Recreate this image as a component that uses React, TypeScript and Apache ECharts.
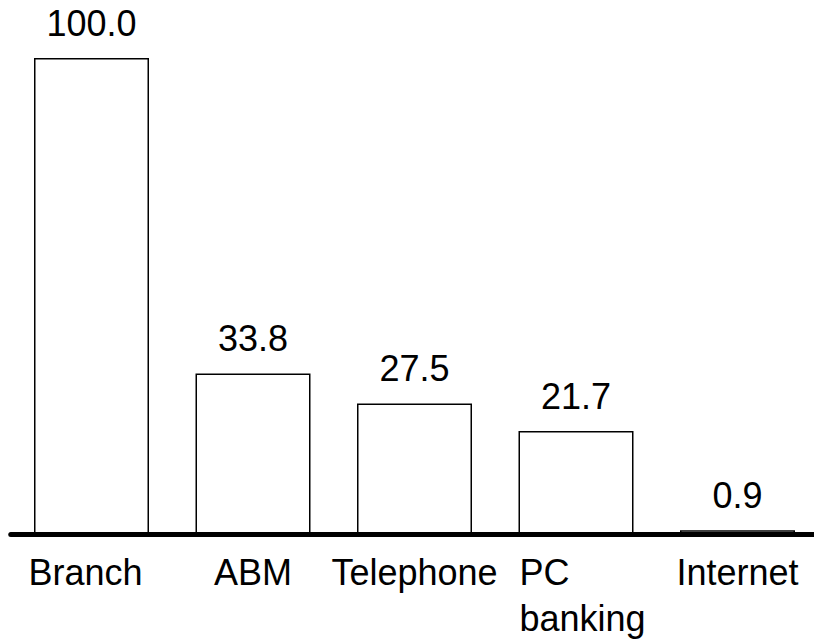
import React, { useEffect, useRef } from 'react';
import * as echarts from 'echarts';

const categories = ['Branch', 'ABM', 'Telephone', 'PC\nbanking', 'Internet'];
const values = [100.0, 33.8, 27.5, 21.7, 0.9];

export default function App() {
  const ref = useRef<HTMLDivElement>(null);
  useEffect(() => {
    const chart = echarts.init(ref.current as HTMLDivElement, null, { renderer: 'svg' });
    const font = { fontFamily: '"Liberation Sans", Arial, sans-serif', fontSize: 36, color: '#000' };
    const catData = categories.map((c, i) =>
      i === 0 ? { value: c, textStyle: { padding: [0, 12, 0, 0] } } : c
    );
    chart.setOption({
      animation: false,
      backgroundColor: '#ffffff',
      textStyle: { fontFamily: '"Liberation Sans", Arial, sans-serif' },
      grid: { left: 10.75, top: 58, width: 807.5, bottom: 105 },
      xAxis: {
        type: 'category',
        data: catData,
        z: 10,
        axisLine: { lineStyle: { color: '#000', width: 5 } },
        axisTick: { show: false },
        axisLabel: {
          interval: 0,
          margin: 14.5,
          ...font,
          lineHeight: 46,
          formatter: (v: string) =>
            v.indexOf('\n') >= 0
              ? v
                  .split('\n')
                  .map((s) => '{s| }{l|' + s + '}')
                  .join('\n')
              : v,
          rich: {
            l: { ...font, lineHeight: 46, align: 'left' },
            s: { ...font, lineHeight: 46, width: 13, align: 'left' },
          },
        },
      },
      yAxis: { type: 'value', min: 0, max: 100, show: false },
      series: [
        {
          type: 'bar',
          data: values,
          barWidth: 115,
          itemStyle: { color: '#ffffff', borderColor: '#000', borderWidth: 1.5 },
          label: {
            show: true,
            position: 'top',
            distance: 16.5,
            ...font,
            lineHeight: 36,
            formatter: (p: any) => Number(p.value).toFixed(1),
          },
        },
      ],
    });
    return () => chart.dispose();
  }, []);
  return (
    <div
      style={{
        position: 'absolute',
        left: 0,
        top: 0,
        width: 814,
        height: 641,
        overflow: 'hidden',
        background: '#fff',
      }}
    >
      <div ref={ref} style={{ width: 830, height: 641 }} />
    </div>
  );
}
